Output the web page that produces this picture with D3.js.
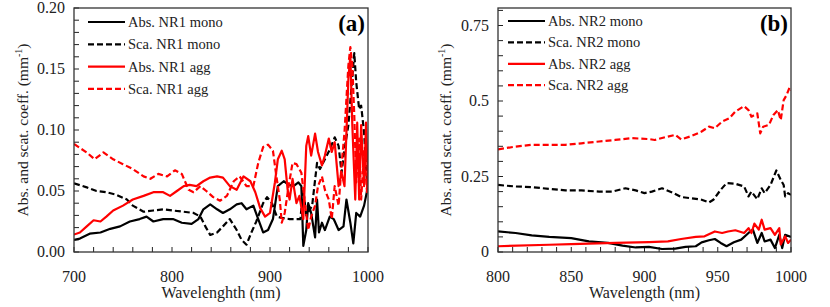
<!DOCTYPE html>
<html><head><meta charset="utf-8">
<script src="https://cdn.jsdelivr.net/npm/d3@7"></script>
<style>body{margin:0;background:#fff}svg{display:block}</style>
</head><body><svg id="c" width="830" height="307" font-family="'Liberation Serif', 'Times New Roman', Times, 'DejaVu Serif', serif"></svg>
<script>
// ---------- Panel (a) data ----------
const aAbsMonoWl = [700,706,716,727,737,747,757,767,774,781,791,801,810,820,827,832,839,846,852,859,866,871,876,883,888,893,898,903,908,914,919,924,929,932,934,937,939,942,946,948,950,953,956,961,965,970,975,978,982,985,988,992,996,1000];
const aAbsMonoV  = [0.010,0.011,0.015,0.016,0.019,0.021,0.025,0.027,0.029,0.025,0.027,0.027,0.024,0.023,0.027,0.035,0.039,0.035,0.032,0.035,0.039,0.040,0.035,0.038,0.027,0.016,0.018,0.027,0.054,0.058,0.055,0.054,0.057,0.054,0.005,0.018,0.040,0.032,0.012,0.043,0.016,0.024,0.018,0.029,0.027,0.018,0.021,0.043,0.024,0.007,0.032,0.029,0.038,0.054];
const aScaMonoWl = [700,713,723,733,743,754,760,771,781,791,801,812,822,829,834,839,846,852,859,866,871,876,881,886,893,897,902,907,912,920,931,934,937,943,948,951,956,961,966,970,973,976,980,983,986,988,991,993,996,999,1000];
const aScaMonoV  = [0.0563,0.053,0.050,0.049,0.047,0.043,0.038,0.033,0.034,0.035,0.034,0.033,0.032,0.029,0.021,0.014,0.016,0.021,0.027,0.018,0.010,0.006,0.016,0.025,0.040,0.045,0.040,0.029,0.028,0.027,0.027,0.051,0.030,0.038,0.073,0.068,0.076,0.084,0.094,0.087,0.065,0.084,0.104,0.134,0.163,0.139,0.117,0.120,0.098,0.057,0.049];
const aAbsAggWl  = [700,706,713,720,727,733,740,750,760,771,781,791,798,805,812,818,825,832,839,846,852,859,866,873,880,885,890,895,900,905,908,912,915,918,920,923,927,930,934,937,939,942,946,949,953,956,960,963,966,970,973,976,980,982,984,987,989,991,993,996,998,1000];
const aAbsAggV   = [0.0143,0.016,0.021,0.026,0.025,0.029,0.034,0.038,0.043,0.046,0.049,0.049,0.046,0.050,0.054,0.055,0.054,0.058,0.061,0.062,0.061,0.054,0.051,0.062,0.058,0.049,0.036,0.029,0.032,0.057,0.076,0.083,0.076,0.051,0.043,0.060,0.040,0.046,0.027,0.087,0.095,0.079,0.097,0.082,0.071,0.079,0.093,0.082,0.090,0.054,0.065,0.054,0.142,0.161,0.104,0.043,0.106,0.043,0.104,0.054,0.106,0.054];
const aScaAggWl  = [700,713,721,730,740,750,760,771,778,786,795,803,810,817,822,829,835,842,849,856,863,869,876,883,888,893,898,903,906,910,912,915,919,923,927,932,936,939,942,946,949,953,956,960,963,966,970,973,976,980,982,984,986,988,991,993,996,999,1000];
const aScaAggV   = [0.0885,0.0816,0.076,0.0816,0.076,0.072,0.068,0.062,0.060,0.064,0.062,0.067,0.064,0.051,0.049,0.054,0.050,0.045,0.042,0.046,0.058,0.062,0.054,0.054,0.073,0.086,0.088,0.083,0.065,0.043,0.024,0.032,0.054,0.073,0.072,0.065,0.038,0.018,0.029,0.038,0.054,0.062,0.051,0.043,0.027,0.054,0.038,0.071,0.098,0.153,0.168,0.153,0.112,0.057,0.093,0.043,0.084,0.049,0.071];

// ---------- Panel (b) data ----------
const bAbsMonoWl = [800,812,823,835,850,862,875,885,894,903,912,921,928,935,939,944,948,952,956,961,966,971,974,977,980,982,986,989,992,994,996,1000];
const bAbsMonoV  = [0.068,0.063,0.055,0.050,0.046,0.035,0.030,0.021,0.015,0.017,0.010,0.011,0.017,0.019,0.032,0.039,0.043,0.030,0.019,0.032,0.041,0.063,0.074,0.030,0.063,0.035,0.041,0.013,0.057,0.013,0.057,0.050];
const bScaMonoWl = [800,812,823,835,846,857,869,878,887,894,900,905,912,919,925,932,939,944,947,952,956,962,968,971,973,977,980,982,986,990,993,995,996,998,1000];
const bScaMonoV  = [0.222,0.217,0.215,0.209,0.204,0.204,0.200,0.200,0.211,0.204,0.195,0.200,0.211,0.197,0.182,0.178,0.173,0.164,0.173,0.206,0.228,0.226,0.217,0.184,0.200,0.175,0.211,0.195,0.222,0.270,0.239,0.222,0.184,0.195,0.189];
const bAbsAggWl  = [800,835,850,880,903,916,925,935,941,948,953,957,962,968,971,973,975,978,980,982,986,989,992,993,996,998,1000];
const bAbsAggV   = [0.019,0.024,0.026,0.030,0.033,0.035,0.043,0.050,0.052,0.068,0.063,0.068,0.072,0.063,0.079,0.063,0.094,0.074,0.107,0.074,0.079,0.057,0.079,0.025,0.052,0.030,0.041];
const bScaAggWl  = [800,812,823,835,846,857,869,880,891,903,907,914,921,925,932,939,944,948,953,958,962,968,971,973,977,979,981,985,988,991,993,995,997,999,1000];
const bScaAggV   = [0.340,0.349,0.355,0.355,0.355,0.360,0.366,0.371,0.377,0.374,0.371,0.380,0.388,0.373,0.384,0.399,0.415,0.410,0.432,0.443,0.465,0.483,0.470,0.448,0.459,0.393,0.415,0.421,0.454,0.470,0.437,0.503,0.520,0.545,0.536];

// ---------- Labels ----------
const aLegend = ["Abs. NR1 mono","Sca. NR1 mono","Abs. NR1 agg","Sca. NR1 agg"];
const bLegend = ["Abs. NR2 mono","Sca. NR2 mono","Abs. NR2 agg","Sca. NR2 agg"];
const aXTicks = [700,800,900,1000];
const aYTicks = [0,0.05,0.10,0.15,0.20];
const bXTicks = [800,850,900,950,1000];
const bYTicks = [0,0.25,0.5,0.75];

const svg = d3.select("#c");
const txt = "#222";
const styles = [
  {color:"#000", dash:null},
  {color:"#000", dash:"6,3"},
  {color:"#ff0000", dash:null},
  {color:"#ff0000", dash:"6,3"}
];

function panel(cfg){
  const x = d3.scaleLinear().domain(cfg.xDom).range([cfg.left, cfg.right]);
  const y = d3.scaleLinear().domain(cfg.yDom).range([cfg.bottom, cfg.top]);
  const g = svg.append("g");
  const clipId = "clip"+cfg.name;
  svg.append("clipPath").attr("id",clipId).append("rect")
    .attr("x",cfg.left).attr("y",cfg.top).attr("width",cfg.right-cfg.left).attr("height",cfg.bottom-cfg.top);

  // minor ticks (inward)
  const xMinor = d3.range(cfg.xDom[0], cfg.xDom[1]+0.001, cfg.xMinor);
  g.selectAll(".xt").data(xMinor).join("line")
    .attr("x1",d=>x(d)).attr("x2",d=>x(d)).attr("y1",cfg.bottom).attr("y2",cfg.bottom-5)
    .attr("stroke","#222").attr("stroke-width",1);
  const yMinor = d3.range(0, cfg.yMinorMax+1e-9, cfg.yMinor);
  g.selectAll(".yt").data(yMinor).join("line")
    .attr("x1",cfg.left).attr("x2",cfg.left+5).attr("y1",d=>y(d)).attr("y2",d=>y(d))
    .attr("stroke","#222").attr("stroke-width",1);

  // tick labels
  g.selectAll(".xl").data(cfg.xTicks).join("text")
    .attr("x",d=>x(d)).attr("y",cfg.bottom+30).attr("text-anchor","middle")
    .attr("font-size",16).attr("fill",txt).text(d=>d);
  g.selectAll(".yl").data(cfg.yTicks).join("text")
    .attr("x",cfg.left-9).attr("y",d=>y(d)+5).attr("text-anchor","end")
    .attr("font-size",16).attr("fill",txt).text(cfg.yFmt);

  // series
  const line = d3.line().x(d=>x(d[0])).y(d=>y(d[1]));
  const dg = g.append("g").attr("clip-path",`url(#${clipId})`);
  cfg.series.forEach((s,i)=>{
    const pts = s[0].map((w,j)=>[w,s[1][j]]);
    dg.append("path").datum(pts).attr("d",line).attr("fill","none")
      .attr("stroke",styles[i].color).attr("stroke-width",2.2)
      .attr("stroke-dasharray",styles[i].dash).attr("stroke-linejoin","round");
  });

  // frame
  g.append("rect").attr("x",cfg.left).attr("y",cfg.top)
    .attr("width",cfg.right-cfg.left).attr("height",cfg.bottom-cfg.top)
    .attr("fill","none").attr("stroke","#333").attr("stroke-width",1.3);

  // legend
  cfg.legend.forEach((t,i)=>{
    const cy = cfg.legY + i*cfg.legDy;
    g.append("line").attr("x1",cfg.legX).attr("x2",cfg.legX+37).attr("y1",cy).attr("y2",cy)
      .attr("stroke",styles[i].color).attr("stroke-width",2.2).attr("stroke-dasharray",styles[i].dash);
    g.append("text").attr("x",cfg.legX+40).attr("y",cy+5).attr("font-size",14.5).attr("fill",txt).text(t);
  });

  // panel letter
  g.append("text").attr("x",cfg.right-3).attr("y",31).attr("text-anchor","end")
    .attr("font-size",23).attr("font-weight","bold").attr("fill","#000").text(cfg.letter);

  // axis titles
  g.append("text").attr("x",(cfg.left+cfg.right)/2).attr("y",298).attr("text-anchor","middle")
    .attr("font-size",16).attr("fill",txt).text(cfg.xTitle);
  const yt = g.append("text").attr("transform",`translate(${cfg.yTitleX},${(cfg.top+cfg.bottom)/2}) rotate(-90)`)
    .attr("text-anchor","middle").attr("font-size",15.5).attr("fill",txt);
  yt.append("tspan").text("Abs. and scat. coeff. (mm");
  yt.append("tspan").attr("font-size",10).attr("dy",-6).text("-1");
  yt.append("tspan").attr("dy",6).text(")");
}

panel({name:"a", xDom:[700,1000], yDom:[0,0.2], left:74, right:368, top:8, bottom:252,
  xMinor:20, yMinor:0.01, yMinorMax:0.2, xTicks:aXTicks, yTicks:aYTicks, yFmt:d3.format(".2f"),
  series:[[aAbsMonoWl,aAbsMonoV],[aScaMonoWl,aScaMonoV],[aAbsAggWl,aAbsAggV],[aScaAggWl,aScaAggV]],
  legend:aLegend, legX:88, legY:22, legDy:22.3, letter:"(a)", xTitle:"Wavelenghth (nm)", yTitleX:28});

panel({name:"b", xDom:[800,1000], yDom:[0,0.808], left:498, right:791, top:8, bottom:252,
  xMinor:10, yMinor:0.05, yMinorMax:0.8, xTicks:bXTicks, yTicks:bYTicks, yFmt:d=>d3.format("")(d),
  series:[[bAbsMonoWl,bAbsMonoV],[bScaMonoWl,bScaMonoV],[bAbsAggWl,bAbsAggV],[bScaAggWl,bScaAggV]],
  legend:bLegend, legX:508, legY:21, legDy:21.4, letter:"(b)", xTitle:"Wavelength (nm)", yTitleX:451});
</script></body></html>
